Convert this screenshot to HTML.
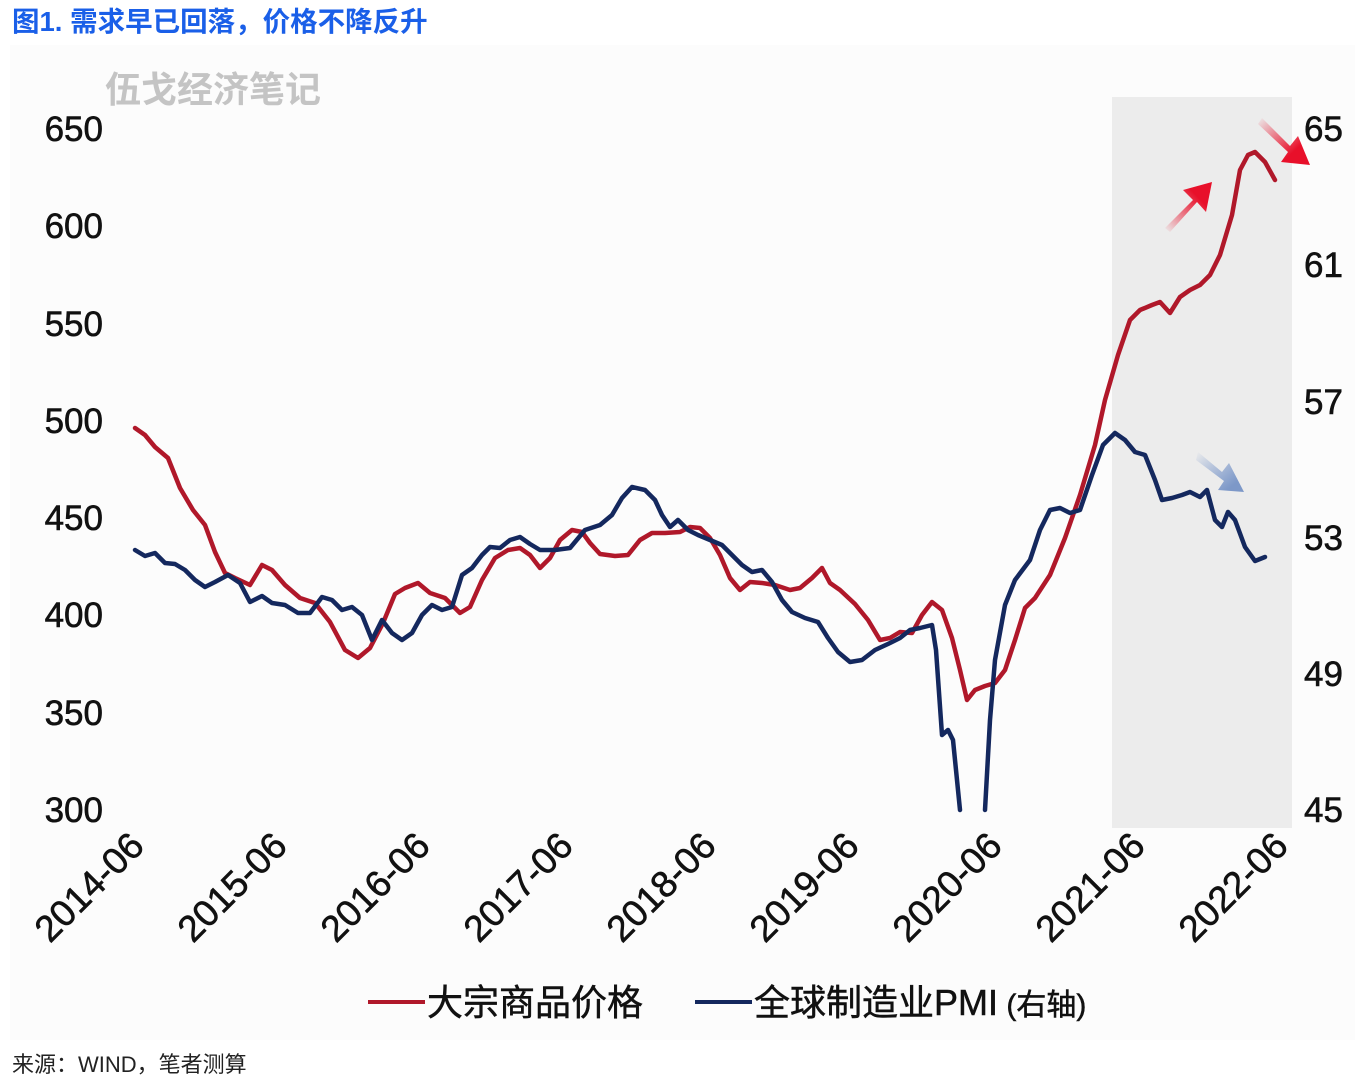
<!DOCTYPE html>
<html><head><meta charset="utf-8"><style>
body{margin:0;background:#fff;}
svg{display:block;font-family:"Liberation Sans","Noto Sans CJK SC",sans-serif;}
</style></head><body>
<svg width="1358" height="1092" viewBox="0 0 1358 1092">
<defs>
<linearGradient id="rg" x1="0" y1="1" x2="1" y2="0"><stop offset="0" stop-color="#e8102a" stop-opacity="0"/><stop offset="0.7" stop-color="#e8102a"/></linearGradient>
<linearGradient id="rg2" x1="0" y1="0" x2="1" y2="1"><stop offset="0" stop-color="#e8102a" stop-opacity="0"/><stop offset="0.7" stop-color="#e8102a"/></linearGradient>
<linearGradient id="bg" x1="0" y1="0" x2="1" y2="1"><stop offset="0" stop-color="#6f8fc8" stop-opacity="0"/><stop offset="0.8" stop-color="#7d98c8"/></linearGradient>
</defs>
<rect x="10" y="45" width="1345" height="995" fill="#fcfcfc"/>
<text x="12" y="31" font-size="27.5" font-weight="bold" fill="#1a5fe8">图1. 需求早已回落，价格不降反升</text>
<text x="105" y="102" font-size="36" font-weight="bold" fill="#c4c4c4">伍戈经济笔记</text>
<rect x="1112" y="97" width="180" height="731" fill="#ececec"/>
<g font-size="35" fill="#111" text-anchor="end" stroke="#111" stroke-width="0.6">
<text x="103" y="141">650</text><text x="103" y="238">600</text><text x="103" y="336">550</text><text x="103" y="433">500</text><text x="103" y="530">450</text><text x="103" y="627">400</text><text x="103" y="725">350</text><text x="103" y="822">300</text>
</g>
<g font-size="35" fill="#111" stroke="#111" stroke-width="0.6">
<text x="1304" y="141">65</text><text x="1304" y="277">61</text><text x="1304" y="414">57</text><text x="1304" y="550">53</text><text x="1304" y="686">49</text><text x="1304" y="822">45</text>
</g>
<g font-size="37" fill="#111" text-anchor="end" stroke="#111" stroke-width="0.6">
<text transform="translate(146,848) rotate(-45)">2014-06</text>
<text transform="translate(289,848) rotate(-45)">2015-06</text>
<text transform="translate(432,848) rotate(-45)">2016-06</text>
<text transform="translate(575,848) rotate(-45)">2017-06</text>
<text transform="translate(718,848) rotate(-45)">2018-06</text>
<text transform="translate(861,848) rotate(-45)">2019-06</text>
<text transform="translate(1004,848) rotate(-45)">2020-06</text>
<text transform="translate(1147,848) rotate(-45)">2021-06</text>
<text transform="translate(1290,848) rotate(-45)">2022-06</text>
</g>
<!-- arrows -->
<polygon points="1165,228 1193,200 1183,190 1212,182 1206,212 1197,202 1170,232" fill="url(#rg)"/>
<polygon points="1262,118 1290,146 1298,136 1310,165 1281,162 1288,152 1258,124" fill="url(#rg2)"/>
<polygon points="1198,452 1222,472 1229,463 1244,492 1218,490 1224,481 1196,460" fill="url(#bg)"/>
<polyline fill="none" stroke="#b0182a" stroke-width="4.5" stroke-linejoin="round" stroke-linecap="round" points="135,428 145,435 155,447 168,458 180,488 193,510 205,525 215,552 225,573 235,578 250,585 262,565 272,570 285,585 300,598 315,603 330,622 345,650 358,658 370,648 383,623 395,594 405,588 418,583 430,593 445,598 460,613 470,607 482,580 495,558 508,550 520,548 530,555 540,568 550,558 560,540 572,530 582,532 590,543 600,554 615,556 628,555 640,540 652,533 665,533 680,532 690,527 700,528 710,538 720,555 730,578 740,590 750,582 762,583 775,585 790,590 800,588 812,578 822,568 830,583 840,590 855,604 868,620 880,640 890,638 900,632 912,633 922,615 932,602 942,610 952,638 960,670 967,700 975,690 985,686 995,683 1005,670 1015,640 1025,608 1035,598 1050,575 1065,538 1080,495 1095,445 1105,400 1118,355 1130,320 1140,310 1152,305 1160,302 1170,313 1180,297 1190,290 1200,285 1210,275 1220,255 1232,215 1240,170 1248,155 1255,152 1265,162 1275,180"/>
<polyline fill="none" stroke="#14285e" stroke-width="4.5" stroke-linejoin="round" stroke-linecap="round" points="135,550 145,556 155,553 165,563 175,564 185,570 195,580 205,587 215,582 228,575 240,583 250,602 262,596 272,603 285,605 298,613 310,613 322,597 332,600 342,610 352,607 362,615 372,640 382,620 392,633 402,640 412,633 422,615 432,605 442,610 452,607 462,575 472,568 482,555 490,547 500,548 510,540 520,537 530,544 540,550 555,550 570,548 585,530 600,525 612,515 622,498 632,487 645,490 655,500 662,515 670,527 678,520 688,530 698,535 710,540 722,545 732,555 742,565 752,572 762,570 772,582 782,600 792,612 805,618 818,622 828,638 838,652 850,662 862,660 875,650 890,643 900,638 910,630 920,628 932,625 936,650 942,735 948,730 953,740 960,810"/>
<polyline fill="none" stroke="#14285e" stroke-width="4.5" stroke-linejoin="round" stroke-linecap="round" points="985,810 990,720 995,660 1005,605 1015,580 1030,560 1040,530 1050,510 1060,508 1070,513 1080,510 1092,475 1103,445 1115,433 1125,440 1135,452 1145,455 1155,480 1162,500 1172,498 1182,495 1190,492 1200,497 1207,490 1215,520 1222,527 1228,512 1235,520 1245,547 1255,561 1265,557"/>
<line x1="368" y1="1002" x2="425" y2="1002" stroke="#b0182a" stroke-width="4"/>
<text x="427" y="1015" font-size="36" fill="#111" stroke="#111" stroke-width="0.5">大宗商品价格</text>
<line x1="695" y1="1002" x2="752" y2="1002" stroke="#14285e" stroke-width="4"/>
<text x="754" y="1015" font-size="36" fill="#111" stroke="#111" stroke-width="0.5">全球制造业PMI<tspan font-size="30"> (右轴)</tspan></text>
<text x="12" y="1072" font-size="22" fill="#222">来源：WIND，笔者测算</text>
</svg>
</body></html>
